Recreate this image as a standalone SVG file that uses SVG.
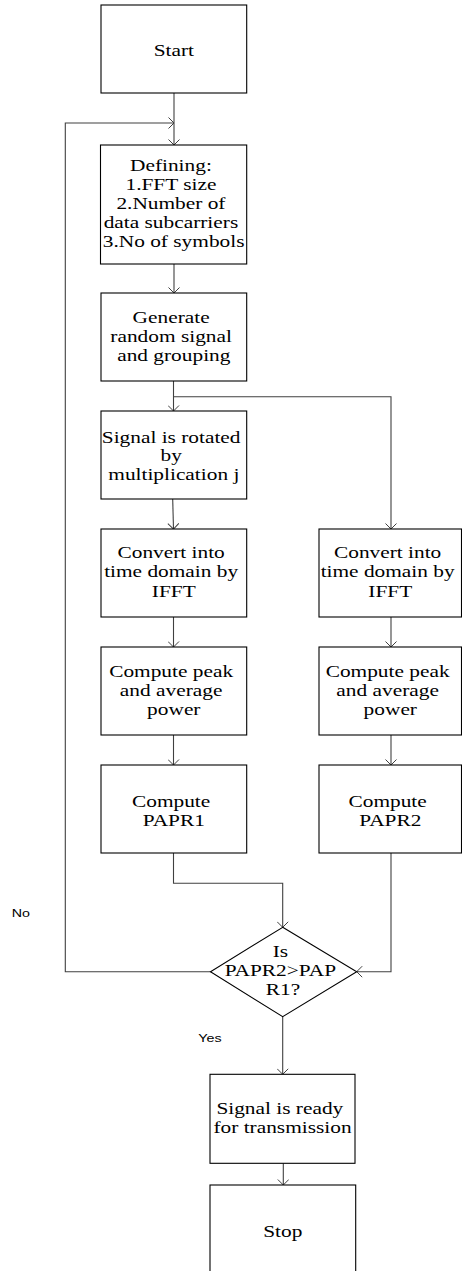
<svg xmlns="http://www.w3.org/2000/svg" width="462" height="1271" viewBox="0 0 462 1271">
  <style>
    .box { fill: #fff; stroke: #000; stroke-width: 1.1; }
    .lbl { font-family: 'Liberation Serif', serif; font-size: 17.5px; fill: #000; text-anchor: middle; }
    .note { font-family: 'Liberation Sans', sans-serif; font-size: 11.7px; fill: #000; }
    .wire { fill: none; stroke: #404040; stroke-width: 1.1; }
    .arrow { marker-end: url(#open); }
  </style>
  <defs>
    <marker id="open" viewBox="0 0 12 12" refX="10" refY="6" markerWidth="12" markerHeight="12" markerUnits="userSpaceOnUse" orient="auto">
      <path d="M4.5,0.5 L10,6 L4.5,11.5" fill="none" stroke="#404040" stroke-width="1"/>
    </marker>
  </defs>
  <rect width="462" height="1271" fill="#fff"/>

  <!-- connectors -->
  <g id="connectors">
    <path class="wire arrow" d="M174,93 V145"/>
    <path class="wire arrow" d="M211,971.7 H65.3 V123 H174"/>
    <path class="wire arrow" d="M174,264 V293"/>
    <path class="wire arrow" d="M173.5,381 V411"/>
    <path class="wire arrow" d="M173.5,396.7 H391 V529"/>
    <path class="wire arrow" d="M172.7,499 L173.5,529"/>
    <path class="wire arrow" d="M173.5,617 V647"/>
    <path class="wire arrow" d="M391,617 V647"/>
    <path class="wire arrow" d="M173.5,735 V765"/>
    <path class="wire arrow" d="M391,735 V765"/>
    <path class="wire arrow" d="M173.5,853 V883.3 H282.7 V927.3"/>
    <path class="wire arrow" d="M391,853 V971.7 H356.7"/>
    <path class="wire arrow" d="M282.7,1016.7 V1074.3"/>
    <path class="wire arrow" d="M283.3,1163.3 V1185"/>
  </g>

  <g id="n-start">
    <rect class="box" x="101" y="5" width="145.7" height="88"/>
    <text class="lbl" font-family="Liberation Serif, serif" transform="translate(173.8,0) scale(1.22,1)"><tspan x="0" y="56">Start</tspan></text>
  </g>

  <g id="n-define">
    <rect class="box" x="100.5" y="145" width="146.2" height="119"/>
    <text class="lbl" font-family="Liberation Serif, serif" transform="translate(173.6,0) scale(1.22,1)">
      <tspan x="0" y="171.5">Defining:</tspan>
      <tspan x="0" y="190.5">1.FFT size</tspan>
      <tspan x="0" y="209.5">2.Number of</tspan>
      <tspan x="0" y="228.3">data subcarriers</tspan>
      <tspan x="0" y="247.3">3.No of symbols</tspan>
    </text>
  </g>

  <g id="n-generate">
    <rect class="box" x="101" y="293" width="145.7" height="88"/>
    <text class="lbl" font-family="Liberation Serif, serif" transform="translate(173.8,0) scale(1.22,1)">
      <tspan x="0" y="323.3">Generate</tspan>
      <tspan x="0" y="342.3">random signal</tspan>
      <tspan x="0" y="361.3">and grouping</tspan>
    </text>
  </g>

  <g id="n-rotate">
    <rect class="box" x="101" y="411" width="145.7" height="88"/>
    <text class="lbl" font-family="Liberation Serif, serif" transform="translate(173.8,0) scale(1.22,1)">
      <tspan x="0" y="442.7">Signal is rotated</tspan>
      <tspan x="0" y="461.3">by</tspan>
      <tspan x="0" y="480.3">multiplication j</tspan>
    </text>
  </g>

  <g id="n-ifft1">
    <rect class="box" x="101" y="529" width="145.7" height="88"/>
    <text class="lbl" font-family="Liberation Serif, serif" transform="translate(173.8,0) scale(1.22,1)">
      <tspan x="0" y="558.3">Convert into</tspan>
      <tspan x="0" y="577.3">time domain by</tspan>
      <tspan x="0" y="596.7">IFFT</tspan>
    </text>
  </g>

  <g id="n-ifft2">
    <rect class="box" x="319" y="529" width="142.5" height="88"/>
    <text class="lbl" font-family="Liberation Serif, serif" transform="translate(390.3,0) scale(1.22,1)">
      <tspan x="0" y="558.3">Convert into</tspan>
      <tspan x="0" y="577.3">time domain by</tspan>
      <tspan x="0" y="596.7">IFFT</tspan>
    </text>
  </g>

  <g id="n-power1">
    <rect class="box" x="101" y="647" width="145.7" height="88"/>
    <text class="lbl" font-family="Liberation Serif, serif" transform="translate(173.8,0) scale(1.22,1)">
      <tspan x="0" y="676.7">Compute peak</tspan>
      <tspan x="0" y="696">and average</tspan>
      <tspan x="0" y="715">power</tspan>
    </text>
  </g>

  <g id="n-power2">
    <rect class="box" x="319" y="647" width="142.5" height="88"/>
    <text class="lbl" font-family="Liberation Serif, serif" transform="translate(390.3,0) scale(1.22,1)">
      <tspan x="0" y="676.7">Compute peak</tspan>
      <tspan x="0" y="696">and average</tspan>
      <tspan x="0" y="715">power</tspan>
    </text>
  </g>

  <g id="n-papr1">
    <rect class="box" x="101" y="765" width="145.7" height="88"/>
    <text class="lbl" font-family="Liberation Serif, serif" transform="translate(173.8,0) scale(1.22,1)">
      <tspan x="0" y="806.7">Compute</tspan>
      <tspan x="0" y="825.7">PAPR1</tspan>
    </text>
  </g>

  <g id="n-papr2">
    <rect class="box" x="319" y="765" width="142.5" height="88"/>
    <text class="lbl" font-family="Liberation Serif, serif" transform="translate(390.3,0) scale(1.22,1)">
      <tspan x="0" y="806.7">Compute</tspan>
      <tspan x="0" y="825.7">PAPR2</tspan>
    </text>
  </g>

  <g id="n-decide">
    <polygon class="box" points="282.7,927.3 356.7,971.7 282.7,1016.7 210.5,971.7"/>
    <text class="lbl" font-family="Liberation Serif, serif" transform="translate(283,0) scale(1.22,1)">
      <tspan x="0" y="956.7">Is</tspan>
      <tspan x="0" y="976">PAPR2&gt;PAP</tspan>
      <tspan x="0" y="995">R1?</tspan>
    </text>
  </g>

  <g id="label-no">
    <text class="note" font-family="Liberation Sans, sans-serif" transform="translate(11.7,0) scale(1.22,1)"><tspan x="0" y="916.7">No</tspan></text>
  </g>
  <g id="label-yes">
    <text class="note" font-family="Liberation Sans, sans-serif" transform="translate(198.3,0) scale(1.22,1)"><tspan x="0" y="1041.7">Yes</tspan></text>
  </g>

  <g id="n-ready">
    <rect class="box" x="210" y="1074.3" width="145" height="89"/>
    <text class="lbl" font-family="Liberation Serif, serif" transform="translate(282.5,0) scale(1.22,1)">
      <tspan x="0" y="1114.3">Signal is ready</tspan>
      <tspan x="0" y="1133.3">for transmission</tspan>
    </text>
  </g>

  <g id="n-stop">
    <rect class="box" x="210" y="1185" width="145.7" height="110"/>
    <text class="lbl" font-family="Liberation Serif, serif" transform="translate(282.8,0) scale(1.22,1)"><tspan x="0" y="1236.7">Stop</tspan></text>
  </g>
</svg>
